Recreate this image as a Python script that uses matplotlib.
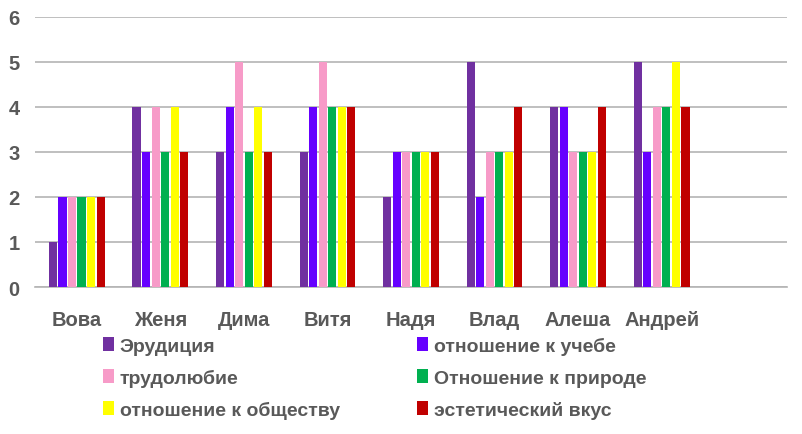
import numpy as np
import matplotlib.pyplot as plt
from matplotlib.patches import Patch

plt.rcParams['font.family'] = ['Liberation Sans', 'DejaVu Sans']

names = ['Вова', 'Женя', 'Дима', 'Витя', 'Надя', 'Влад', 'Алеша', 'Андрей', '']
series = ['Эрудиция', 'отношение к учебе', 'трудолюбие',
          'Отношение к природе', 'отношение к обществу', 'эстетический вкус']
colors = ['#7030A0', '#6600FF', '#F79BC8', '#00B050', '#FFFF00', '#C00000']

erud = [1, 4, 3, 3, 2, 5, 4, 5]
ucheba = [2, 3, 4, 4, 3, 2, 4, 3]
trud = [2, 4, 5, 5, 3, 3, 3, 4]
priroda = [2, 3, 3, 4, 3, 3, 3, 4]
obshch = [2, 4, 4, 4, 3, 3, 3, 5]
vkus = [2, 3, 3, 4, 3, 4, 4, 4]
values = [erud, ucheba, trud, priroda, obshch, vkus]

txt = '#595959'
fig = plt.figure(figsize=(8.03, 4.35), dpi=100)
ax = fig.add_axes([35/803, 147/435, 752/803, 270/435])

slot = 0.114
x = np.arange(len(erud))
for j, vals in enumerate(values):
    ax.bar(x + (j - 2.5)*slot, vals, width=0.097, color=colors[j], zorder=3)

ax.set_xlim(-0.5, 8.5)
ax.set_ylim(0, 6)
ax.set_yticks(range(7))
ax.set_xticks(range(len(names)))
ax.set_xticklabels(names, va='baseline')
ax.yaxis.grid(True, color='#b4b4b4', linewidth=1.2, zorder=0)
for s in ['top', 'right', 'left']:
    ax.spines[s].set_visible(False)
ax.spines['bottom'].set_color('#b4b4b4')
ax.spines['bottom'].set_linewidth(1.2)
ax.tick_params(length=0, labelsize=14.5, labelcolor=txt)
ax.tick_params(axis='x', pad=27)
ax.tick_params(axis='y', pad=11)
for lab in ax.get_xticklabels() + ax.get_yticklabels():
    lab.set_fontweight('bold')

def leg(idx, xpix):
    h = [Patch(facecolor=colors[i], label=series[i]) for i in idx]
    l = fig.legend(handles=h, loc='upper left',
                   bbox_to_anchor=(xpix/803, 1 - 338/435), frameon=False,
                   handlelength=0.55, handleheight=0.75, handletextpad=0.3,
                   labelspacing=0.72, borderpad=0, borderaxespad=0,
                   prop={'size': 14, 'weight': 'bold'}, labelcolor=txt)
    return l

leg([0, 2, 4], 103)
leg([1, 3, 5], 417)

fig.savefig('out.png', dpi=100)
